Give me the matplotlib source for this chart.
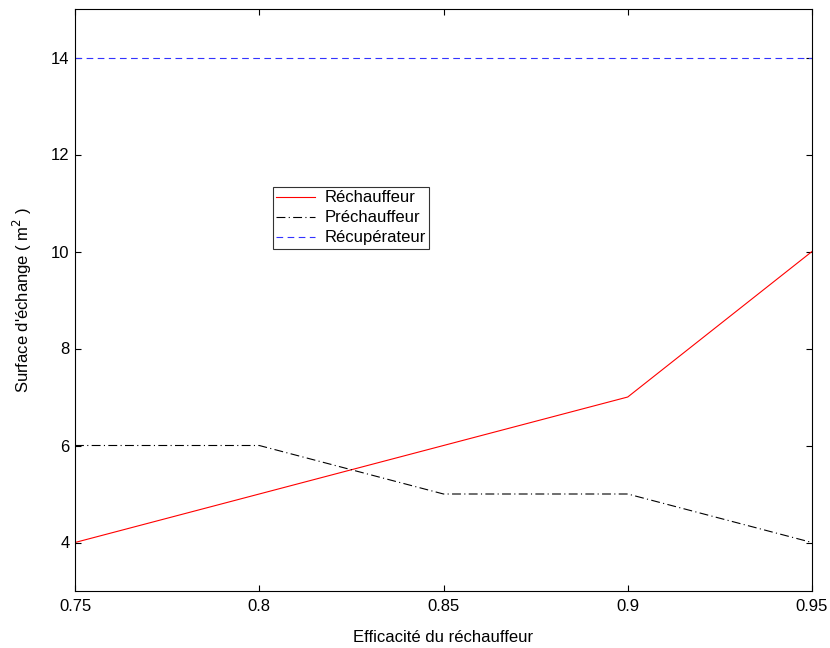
import matplotlib
matplotlib.use("Agg")
import matplotlib.pyplot as plt

plt.rcParams['font.family'] = ['Liberation Sans', 'DejaVu Sans']

x = [0.75, 0.80, 0.85, 0.90, 0.95]
rechauffeur = [4, 5, 6, 7, 10]
prechauffeur = [6, 6, 5, 5, 4]
recuperateur = [14, 14, 14, 14, 14]
xticks = [0.75, 0.8, 0.85, 0.9, 0.95]
xticklabels = ['0.75', '0.8', '0.85', '0.9', '0.95']
yticks = [4, 6, 8, 10, 12, 14]

fig = plt.figure(figsize=(8.3, 6.48), dpi=100)
ax = fig.add_axes([75/830, 57/648, (812-75)/830, (591-9)/648])

ax.plot(x, rechauffeur, color='red', lw=0.8, label='Réchauffeur')
ax.plot(x, prechauffeur, color='black', lw=0.8, linestyle=(0, (8, 3, 1, 3)), label='Préchauffeur')
ax.plot(x, recuperateur, color='#3333ff', lw=0.8, linestyle=(0, (6, 4)), label='Récupérateur')

ax.set_xlim(0.75, 0.95)
ax.set_ylim(3, 15)
ax.set_xticks(xticks)
ax.set_xticklabels(xticklabels)
ax.set_yticks(yticks)
ax.tick_params(direction='in', top=True, right=True, labelsize=12, length=4.5)
ax.tick_params(axis='x', pad=6)
ax.tick_params(axis='y', pad=4)
for s in ax.spines.values():
    s.set_linewidth(0.8)

ax.set_xlabel("Efficacité du réchauffeur", fontsize=12, labelpad=11)
ax.set_ylabel("Surface d'échange ( m$^2$ )", fontsize=12, labelpad=12)

leg = ax.legend(loc='upper left', bbox_to_anchor=((273-75)/737, (591-187)/582),
                fontsize=12, frameon=True, fancybox=False, edgecolor='black',
                borderpad=0.2, labelspacing=0.3, handlelength=2.3, handletextpad=0.6,
                borderaxespad=0)
leg.get_frame().set_linewidth(0.8)

fig.savefig('out.png', dpi=100)
